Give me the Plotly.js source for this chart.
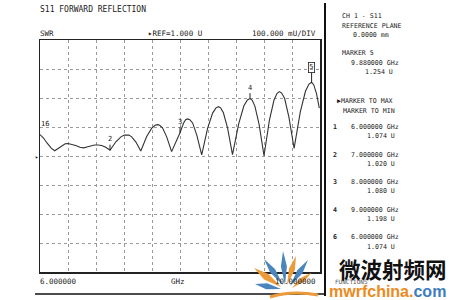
<!DOCTYPE html>
<html><head><meta charset="utf-8">
<script src="https://cdn.plot.ly/plotly-3.0.1.min.js"></script>
<style>html,body{margin:0;padding:0;background:#fff;}#chart{width:450px;height:300px;}</style>
</head><body><div id="chart"></div>
<script>
// Trace: frequency (GHz) and SWR (U)
const freqGHz = [6.000, 6.050, 6.100, 6.160, 6.210, 6.260, 6.310, 6.360, 6.400, 6.450, 6.510, 6.570, 6.620,
  6.670, 6.730, 6.780, 6.830, 6.880, 6.940, 7.000,
  7.084, 7.156, 7.204, 7.240, 7.270, 7.310, 7.370, 7.440,
  7.524, 7.596, 7.644, 7.680, 7.710, 7.750, 7.810, 7.880,
  7.950, 8.000, 8.050, 8.080, 8.110, 8.140, 8.180, 8.240, 8.310,
  8.394, 8.466, 8.514, 8.550, 8.580, 8.620, 8.680, 8.750,
  8.838, 8.913, 8.963, 9.000, 9.030, 9.070, 9.130, 9.200,
  9.277, 9.343, 9.387, 9.420, 9.452, 9.494, 9.556, 9.630,
  9.718, 9.793, 9.843, 9.880, 9.910, 9.950, 9.990];
const swr = [1.074, 1.062, 1.045, 1.027, 1.018, 1.026, 1.037, 1.042, 1.043, 1.041, 1.036, 1.030, 1.028,
  1.031, 1.036, 1.038, 1.038, 1.036, 1.030, 1.020,
  1.049, 1.066, 1.072, 1.073, 1.072, 1.066, 1.048, 1.017,
  1.067, 1.096, 1.106, 1.108, 1.106, 1.097, 1.066, 1.015,
  1.050, 1.080, 1.113, 1.125, 1.128, 1.125, 1.114, 1.072, 1.004,
  1.095, 1.148, 1.166, 1.170, 1.166, 1.149, 1.096, 1.005,
  1.111, 1.173, 1.193, 1.198, 1.193, 1.172, 1.109, 1.001,
  1.123, 1.193, 1.216, 1.222, 1.217, 1.199, 1.134, 1.026,
  1.151, 1.224, 1.248, 1.254, 1.246, 1.215, 1.165];

// Markers on the trace
const markerFreq = [6.000, 7.000, 8.000, 9.000, 9.880];
const markerSWR = [1.074, 1.020, 1.080, 1.198, 1.254];
const markerLabels = ['16', '2', '3', '4', '5'];

// Marker table on the right
const tableIds = ['1', '2', '3', '4', '6'];
const tableFreq = ['6.000000', '7.000000', '8.000000', '9.000000', '6.000000'];
const tableVal = ['1.074', '1.020', '1.080', '1.198', '1.074'];

const startLabel = '6.000000';
const stopLabel = '10.000000';
const refValue = 1.000;

const MONO = 'DejaVu Sans Mono';
const INK = '#222';
const L = 40, R = 320, T = 40, B = 272;
const px = x => (x - L) / (R - L);
const py = y => (B - y) / (B - T);

function txt(text, x, y, size, opts) {
  return Object.assign({text: text, xref: 'paper', yref: 'paper', x: px(x), y: py(y),
    xanchor: 'left', yanchor: 'middle', showarrow: false,
    font: {family: MONO, size: size || 7, color: INK}}, opts || {});
}

const ann = [];
ann.push(txt('S11 FORWARD REFLECTION', 38, 10, 8));
ann.push(txt('SWR', 38, 33, 7.5));
ann.push(txt('\u25B8REF=1.000 U', 146, 33, 7.5));
ann.push(txt('100.000 mU/DIV', 318, 33, 7.5, {xanchor: 'right'}));

// right panel
const RP = 6.6;
ann.push(txt('CH 1 - S11', 340, 16, RP));
ann.push(txt('REFERENCE PLANE', 340, 26, RP));
ann.push(txt('0.0000 mm', 351, 35, RP));
ann.push(txt('MARKER 5', 340, 53, RP));
ann.push(txt('9.880000 GHz', 349, 63, RP));
ann.push(txt('1.254 U', 363, 72, RP));
ann.push(txt('\u25B6MARKER TO MAX', 335, 101, RP));
ann.push(txt('MARKER TO MIN', 341, 111, RP));
for (let i = 0; i < tableIds.length; i++) {
  const y0 = 127 + i * 27.6;
  ann.push(txt(tableIds[i], 331, y0, RP, {font: {family: MONO, size: RP, color: INK, weight: 'bold'}}));
  ann.push(txt(tableFreq[i] + ' GHz', 349, y0, RP));
  ann.push(txt(tableVal[i] + ' U', 365, y0 + 9.2, RP));
}
ann.push(txt('FUNCTIONS', 334, 281, 6, {borderpad: 0, font: {family: MONO, size: 6, color: '#555'}}));

// bottom axis labels
ann.push(txt(startLabel, 38, 281, 7.5));
ann.push(txt('GHz', 178, 281, 7.5, {xanchor: 'center'}));
ann.push(txt(stopLabel, 318, 281, 7.5, {xanchor: 'right'}));

// reference-level pointer
ann.push({text: '\u25B8', xref: 'paper', yref: 'y', x: px(37), y: refValue, xanchor: 'center', yanchor: 'middle',
  showarrow: false, font: {family: MONO, size: 6, color: INK}});

// marker labels on the trace
for (let i = 0; i < markerFreq.length; i++) {
  const a = {x: markerFreq[i], y: markerSWR[i], xref: 'x', yref: 'y', text: markerLabels[i],
    font: {family: MONO, size: 7, color: INK}, showarrow: true, arrowhead: 0, arrowwidth: 1,
    arrowcolor: INK, ax: 0, ay: -11, standoff: 0};
  if (markerLabels[i] === '16') { a.showarrow = false; a.xanchor = 'left'; a.xshift = -1; a.yshift = 11; }
  if (markerLabels[i] === '5') { a.ay = -15; a.bordercolor = INK; a.borderwidth = 0.8; a.borderpad = 0.5; }
  ann.push(a);
}

// watermark text
ann.push({text: '微波射频网', xref: 'paper', yref: 'paper', x: px(448), y: py(268), xanchor: 'right', yanchor: 'middle',
  borderpad: 0, showarrow: false, font: {family: 'Noto Sans CJK SC', size: 21.5, color: '#111', weight: 'bold'}});
ann.push({text: '<span style="color:#ec8a1c">mwrfchina.</span><span style="color:#3d7dbb">com</span>',
  xref: 'paper', yref: 'paper', x: px(447), y: py(291.5), xanchor: 'right', yanchor: 'middle', borderpad: 0,
  showarrow: false, font: {family: 'Liberation Sans', size: 16, color: '#ec8a1c', weight: 'bold'}});

// shapes: panel divider lines and logo petals
const shapes = [
  {type: 'line', xref: 'paper', yref: 'paper', x0: px(325), x1: px(325), y0: py(3), y1: py(296), line: {color: '#111', width: 2}},
  {type: 'line', xref: 'paper', yref: 'paper', x0: px(35), x1: px(326), y0: py(294), y1: py(294), line: {color: '#111', width: 1.5}}
];
function petal(bx, by, tx, ty, w, color) {
  const dx = tx - bx, dy = ty - by, len = Math.hypot(dx, dy);
  const nx = -dy / len * w / 2, ny = dx / len * w / 2;
  const mx = bx + dx * 0.55, my = by + dy * 0.55;
  const p = (x, y) => px(x).toFixed(4) + ',' + py(y).toFixed(4);
  return {type: 'path', xref: 'paper', yref: 'paper', layer: 'above', line: {width: 0}, fillcolor: color,
    path: 'M' + p(bx, by) + ' L' + p(mx + nx, my + ny) + ' L' + p(tx, ty) + ' L' + p(mx - nx, my - ny) + ' Z'};
}
const OR = '#ec9a3a', BL = '#4a86bd';
shapes.push(petal(281, 289, 255, 284, 6, BL));
shapes.push(petal(281, 287, 254, 268, 7, OR));
shapes.push(petal(283, 285, 264, 259, 6, BL));
shapes.push(petal(285, 285, 283, 251, 6, BL));
shapes.push(petal(287, 285, 296, 256, 6, OR));
shapes.push(petal(290, 286, 308, 260, 6, BL));
shapes.push(petal(292, 288, 311, 273, 5, OR));
shapes.push({type: 'path', xref: 'paper', yref: 'paper', layer: 'above', line: {color: OR, width: 3},
  path: 'M' + px(270).toFixed(4) + ',' + py(297).toFixed(4) + ' Q' + px(292).toFixed(4) + ',' + py(290).toFixed(4) + ' ' + px(318).toFixed(4) + ',' + py(295).toFixed(4)});

const trace = {x: freqGHz, y: swr, type: 'scatter', mode: 'lines',
  line: {color: '#333', width: 1.1, shape: 'linear'}, hoverinfo: 'skip'};

const layout = {
  width: 450, height: 300, margin: {l: L, r: 450 - R, t: T, b: 300 - B},
  paper_bgcolor: '#fff', plot_bgcolor: '#fff', showlegend: false,
  xaxis: {range: [6, 10], dtick: 0.4, tick0: 6, showticklabels: false, ticks: '', showgrid: true,
    gridcolor: '#9a9a9a', griddash: 'dot', gridwidth: 1, zeroline: false, showline: true, mirror: true,
    linecolor: '#222', linewidth: 1.5},
  yaxis: {range: [0.6, 1.4], dtick: 0.1, tick0: 0.6, showticklabels: false, ticks: '', showgrid: true,
    gridcolor: '#9a9a9a', griddash: 'dot', gridwidth: 1, zeroline: false, showline: true, mirror: true,
    linecolor: '#222', linewidth: 1.5},
  annotations: ann, shapes: shapes
};
Plotly.newPlot('chart', [trace], layout, {staticPlot: true, displayModeBar: false});
</script></body></html>
